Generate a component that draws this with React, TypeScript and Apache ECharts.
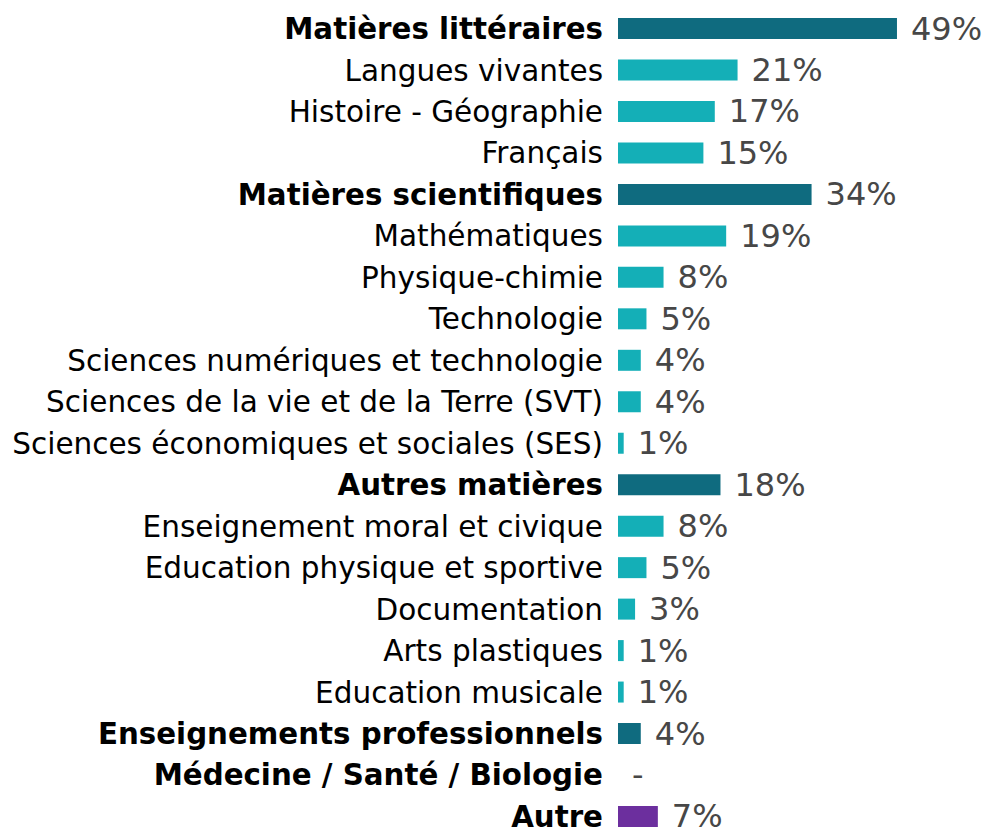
import React, { useEffect, useRef } from "react";
import * as echarts from "echarts";

const categories = [
  "Matières littéraires",
  "Langues vivantes",
  "Histoire - Géographie",
  "Français",
  "Matières scientifiques",
  "Mathématiques",
  "Physique-chimie",
  "Technologie",
  "Sciences numériques et technologie",
  "Sciences de la vie et de la Terre (SVT)",
  "Sciences économiques et sociales (SES)",
  "Autres matières",
  "Enseignement moral et civique",
  "Education physique et sportive",
  "Documentation",
  "Arts plastiques",
  "Education musicale",
  "Enseignements professionnels",
  "Médecine / Santé / Biologie",
  "Autre",
];
const values = [49, 21, 17, 15, 34, 19, 8, 5, 4, 4, 1, 18, 8, 5, 3, 1, 1, 4, 0, 7];
// kind: h = heading (bold, dark), s = sub item, o = other
const kinds = ["h", "s", "s", "s", "h", "s", "s", "s", "s", "s", "s", "h", "s", "s", "s", "s", "s", "h", "h", "o"];

const DARK = "#0f6b7f";
const LIGHT = "#14afb7";
const PURPLE = "#6c2f9e";
const FONT = "DejaVu Sans, Verdana, sans-serif";

export default function App() {
  const ref = useRef<HTMLDivElement>(null);
  useEffect(() => {
    document.body.style.margin = "0";
    const chart = echarts.init(ref.current!, undefined, { renderer: "svg" });
    const colorOf = (k: string) => (k === "h" ? DARK : k === "s" ? LIGHT : PURPLE);
    chart.setOption({
      animation: false,
      grid: { left: 618, top: 7.8, height: 829.4, width: 341.6, containLabel: false },
      xAxis: {
        type: "value",
        min: 0,
        max: 60,
        show: false,
      },
      yAxis: {
        type: "category",
        inverse: true,
        data: categories,
        axisLine: { show: false },
        axisTick: { show: false },
        splitLine: { show: false },
        axisLabel: {
          margin: 15,
          fontFamily: FONT,
          fontSize: 29.5,
          color: "#000",
          formatter: (v: string, i: number) => (kinds[i] === "o" || kinds[i] === "h" ? `{b|${v}}` : `{n|${v}}`),
          rich: {
            b: { fontFamily: FONT, fontSize: 29.3, fontWeight: "bold", color: "#000", padding: [1, 0, 0, 0] },
            n: { fontFamily: FONT, fontSize: 29.5, color: "#000", padding: [1, 0, 0, 0] },
          },
        },
      },
      series: [
        {
          type: "bar",
          barWidth: 21,
          data: values.map((v, i) => ({ value: v, itemStyle: { color: colorOf(kinds[i]) } })),
          label: {
            show: true,
            position: "right",
            distance: 14,
            fontFamily: FONT,
            fontSize: 32,
            color: "#474747",
            padding: [3, 0, 0, 0],
            formatter: (p: any) => (p.value === 0 ? "-" : `${p.value}%`),
          },
        },
      ],
    });
    return () => chart.dispose();
  }, []);
  return (
    <div style={{ width: 989, height: 829, overflow: "hidden", position: "relative" }}>
      <div ref={ref} style={{ width: 989, height: 850 }} />
    </div>
  );
}
